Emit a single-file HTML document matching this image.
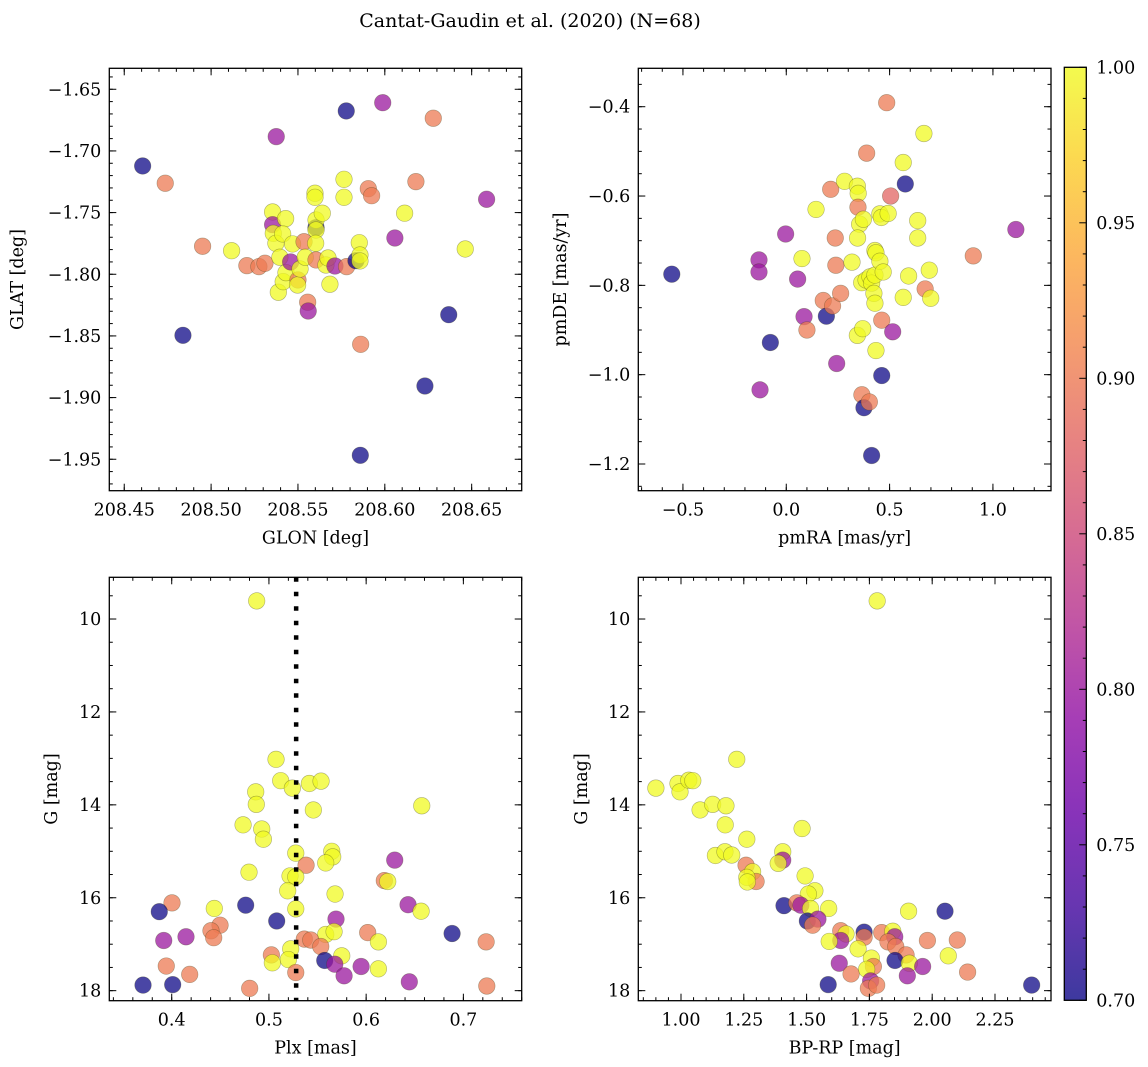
<!DOCTYPE html>
<html><head><meta charset="utf-8"><title>Cantat-Gaudin et al. (2020)</title>
<style>
html,body{margin:0;padding:0;background:#fff;}
svg{display:block;font-family:"DejaVu Serif","Liberation Serif",serif;}
</style></head>
<body>
<svg id="fig" width="1148" height="1067" viewBox="0 0 1148 1067" xmlns="http://www.w3.org/2000/svg">
<text x="530" y="27" text-anchor="middle" font-size="19" fill="#000">Cantat-Gaudin et al. (2020) (N=68)</text>
<defs>
<linearGradient id="plasmaGrad" x1="0" y1="1" x2="0" y2="0">
<stop offset="0" stop-color="#0d0887"/><stop offset="0.1" stop-color="#41049d"/><stop offset="0.2" stop-color="#6a00a8"/><stop offset="0.3" stop-color="#8f0da4"/><stop offset="0.4" stop-color="#b12a90"/><stop offset="0.5" stop-color="#cc4778"/><stop offset="0.6" stop-color="#e16462"/><stop offset="0.7" stop-color="#f2844b"/><stop offset="0.8" stop-color="#fca636"/><stop offset="0.9" stop-color="#fcce25"/><stop offset="1" stop-color="#f0f921"/>
</linearGradient>
</defs>
</svg>
<script>
// ---- data: top-left (GLON/GLAT) ----
const tlX = [208.5604,208.4606,208.4736,208.4838,208.4951,208.5118,208.5206,208.5275,208.5310,208.5375,208.5354,208.5354,208.5358,208.5373,208.5429,208.5412,208.5396,208.5387,208.5415,208.5431,208.5458,208.5469,208.5500,208.5498,208.5512,208.5535,208.5542,208.5556,208.5559,208.5604,208.5598,208.5598,208.5604,208.5604,208.5602,208.5640,208.5661,208.5673,208.5684,208.5713,208.5765,208.5765,208.5778,208.5780,208.5834,208.5853,208.5857,208.5857,208.5861,208.5859,208.5905,208.5924,208.5988,208.6058,208.6114,208.6179,208.6231,208.6279,208.6368,208.6463,208.6586];
const tlY = [-1.7622,-1.7122,-1.7262,-1.8495,-1.7773,-1.7809,-1.7930,-1.7938,-1.7911,-1.6884,-1.7495,-1.7598,-1.7668,-1.7749,-1.7549,-1.7673,-1.7862,-1.8146,-1.8060,-1.7987,-1.7900,-1.7754,-1.8046,-1.8087,-1.7957,-1.7736,-1.7862,-1.8227,-1.8298,-1.7884,-1.7343,-1.7376,-1.7560,-1.7641,-1.7749,-1.7505,-1.7925,-1.7868,-1.8081,-1.7933,-1.7230,-1.7376,-1.6676,-1.7938,-1.7890,-1.7744,-1.7844,-1.7892,-1.8568,-1.9468,-1.7306,-1.7363,-1.6609,-1.7706,-1.7505,-1.7249,-1.8906,-1.6735,-1.8328,-1.7795,-1.7392];
const tlC = [0.70,0.70,0.90,0.70,0.90,1.0,0.90,0.90,0.90,0.80,1.0,0.80,1.0,1.0,1.0,1.0,1.0,1.0,1.0,1.0,0.80,1.0,0.90,1.0,1.0,0.90,1.0,0.90,0.80,0.90,1.0,1.0,1.0,1.0,1.0,1.0,1.0,1.0,1.0,0.80,1.0,1.0,0.70,0.90,0.70,1.0,1.0,1.0,0.90,0.70,0.90,0.90,0.80,0.80,1.0,0.90,0.70,0.90,0.70,1.0,0.80];

// ---- data: top-right (pmRA/pmDE) ----
const trX = [-0.554,-0.132,-0.132,-0.127,-0.077,-0.003,0.055,0.076,0.086,0.100,0.144,0.179,0.194,0.224,0.215,0.237,0.240,0.244,0.263,0.282,0.318,0.344,0.348,0.347,0.355,0.373,0.345,0.344,0.370,0.366,0.376,0.402,0.389,0.365,0.386,0.405,0.413,0.424,0.429,0.429,0.429,0.434,0.453,0.469,0.434,0.413,0.462,0.462,0.453,0.460,0.493,0.486,0.505,0.515,0.566,0.576,0.566,0.592,0.636,0.636,0.666,0.672,0.692,0.699,0.905,1.111];
const trY = [-0.775,-0.743,-0.770,-1.034,-0.928,-0.685,-0.786,-0.740,-0.870,-0.900,-0.630,-0.834,-0.869,-0.846,-0.585,-0.694,-0.755,-0.975,-0.818,-0.567,-0.748,-0.578,-0.594,-0.625,-0.663,-0.652,-0.694,-0.912,-0.897,-1.045,-1.074,-1.061,-0.504,-0.794,-0.788,-0.781,-0.795,-0.818,-0.840,-0.777,-0.722,-0.727,-0.746,-0.770,-0.946,-1.181,-0.878,-1.002,-0.640,-0.648,-0.639,-0.391,-0.600,-0.904,-0.525,-0.573,-0.827,-0.779,-0.655,-0.694,-0.460,-0.808,-0.766,-0.829,-0.734,-0.675];
const trC = [0.70,0.80,0.80,0.80,0.70,0.80,0.80,1.0,0.80,0.90,1.0,0.90,0.70,0.90,0.90,0.90,0.90,0.80,0.90,1.0,1.0,1.0,1.0,0.90,1.0,1.0,1.0,1.0,1.0,0.90,0.70,0.90,0.90,1.0,1.0,1.0,1.0,1.0,1.0,1.0,1.0,1.0,1.0,1.0,1.0,0.70,0.90,0.70,1.0,1.0,1.0,0.90,0.88,0.80,1.0,0.70,1.0,1.0,1.0,1.0,1.0,0.90,1.0,1.0,0.90,0.80];

// ---- data: bottom-left (Plx/G) ----
const blX = [0.4874,0.5073,0.5121,0.5241,0.5416,0.5536,0.4864,0.4870,0.5457,0.6572,0.4734,0.4926,0.4943,0.5276,0.5646,0.5656,0.5584,0.5382,0.6294,0.4795,0.5217,0.5276,0.6187,0.6222,0.5193,0.5680,0.4003,0.3872,0.4438,0.4761,0.5276,0.6431,0.6565,0.5080,0.5690,0.4497,0.4404,0.4432,0.3918,0.4147,0.5584,0.5670,0.5364,0.5430,0.5533,0.6016,0.6126,0.6884,0.7234,0.5224,0.5025,0.5035,0.5200,0.5749,0.5574,0.5677,0.3944,0.5948,0.6126,0.4185,0.5276,0.5773,0.6444,0.3705,0.4010,0.4802,0.7241];
const blG = [9.61,13.02,13.48,13.64,13.54,13.49,13.72,13.99,14.11,14.02,14.43,14.52,14.74,15.04,15.00,15.12,15.25,15.30,15.19,15.45,15.53,15.55,15.63,15.65,15.85,15.92,16.11,16.30,16.23,16.16,16.24,16.15,16.29,16.50,16.46,16.59,16.71,16.86,16.92,16.84,16.79,16.73,16.89,16.91,17.05,16.75,16.95,16.77,16.95,17.10,17.23,17.40,17.33,17.25,17.35,17.43,17.47,17.48,17.53,17.65,17.61,17.68,17.81,17.88,17.87,17.95,17.90];
const blC = [1.0,1.0,1.0,1.0,1.0,1.0,1.0,1.0,1.0,1.0,1.0,1.0,1.0,1.0,1.0,1.0,1.0,0.90,0.80,1.0,1.0,1.0,0.90,1.0,1.0,1.0,0.90,0.70,1.0,0.70,1.0,0.80,1.0,0.70,0.80,0.90,0.90,0.90,0.80,0.80,1.0,1.0,0.90,0.90,0.90,0.90,1.0,0.70,0.90,1.0,0.90,1.0,1.0,1.0,0.70,0.80,0.90,0.80,1.0,0.90,0.90,0.80,0.80,0.70,0.70,0.90,0.90];
const plxMedian = 0.528;

// ---- data: bottom-right (BP-RP/G) ----
const brX = [1.781,1.222,0.900,0.988,0.996,1.031,1.047,1.076,1.126,1.179,1.176,1.482,1.262,1.137,1.175,1.202,1.405,1.405,1.387,1.259,1.285,1.299,1.262,1.264,1.494,1.533,1.507,1.410,1.461,1.477,1.516,1.588,1.906,2.051,1.503,1.545,1.524,1.636,1.657,1.636,1.590,1.729,1.729,1.705,1.799,1.843,1.851,1.824,1.855,1.981,2.100,1.896,2.064,1.758,1.852,1.909,1.630,1.766,1.739,1.962,1.677,1.901,2.141,1.755,1.586,1.746,1.779,2.396];
const brG = [9.61,13.02,13.64,13.54,13.72,13.47,13.48,14.11,13.99,14.02,14.43,14.51,14.74,15.09,15.01,15.08,15.01,15.19,15.26,15.30,15.44,15.65,15.56,15.66,15.53,15.85,15.92,16.17,16.11,16.16,16.23,16.23,16.29,16.29,16.50,16.46,16.59,16.71,16.78,16.92,16.94,16.74,16.85,17.10,16.75,16.72,16.84,16.95,17.05,16.92,16.91,17.23,17.25,17.30,17.35,17.41,17.41,17.48,17.54,17.48,17.64,17.68,17.60,17.79,17.87,17.95,17.88,17.88];
const brC = [1.0,1.0,1.0,1.0,1.0,1.0,1.0,1.0,1.0,1.0,1.0,1.0,1.0,1.0,1.0,1.0,1.0,0.80,1.0,0.90,1.0,0.90,1.0,1.0,1.0,1.0,1.0,0.70,0.90,0.80,1.0,1.0,1.0,0.70,0.70,0.80,0.90,0.90,1.0,0.80,1.0,0.70,0.90,1.0,0.90,1.0,0.80,0.90,0.90,0.90,0.90,0.90,1.0,1.0,0.70,1.0,0.80,0.90,1.0,0.80,0.90,0.80,0.90,0.80,0.70,0.90,0.90,0.70];

// ---- tick labels ----
const tlXTicks = [208.45,208.50,208.55,208.60,208.65];
const tlYTicks = [-1.65,-1.70,-1.75,-1.80,-1.85,-1.90,-1.95];
const trXTicks = [-0.5,0.0,0.5,1.0];
const trYTicks = [-0.4,-0.6,-0.8,-1.0,-1.2];
const blXTicks = [0.4,0.5,0.6,0.7];
const gTicks = [10,12,14,16,18];
const brXTicks = [1.00,1.25,1.50,1.75,2.00,2.25];
const cbTicks = [0.70,0.75,0.80,0.85,0.90,0.95,1.00];

const NS = "http://www.w3.org/2000/svg";
const svg = document.getElementById('fig');
const FS = 17.5;
function el(tag, attrs, parent){
  const e = document.createElementNS(NS, tag);
  for (const k in attrs) e.setAttribute(k, attrs[k]);
  (parent||svg).appendChild(e);
  return e;
}
const stops = [[13,8,135],[65,4,157],[106,0,168],[143,13,164],[177,42,144],[204,71,120],[225,100,98],[242,132,75],[252,166,54],[252,206,37],[240,249,33]];
function plasma(t){
  t = Math.max(0, Math.min(1, t));
  const f = t*10, i = Math.min(9, Math.floor(f)), u = f-i;
  const a = stops[i], b = stops[i+1];
  return 'rgb(' + [0,1,2].map(k => Math.round(a[k]+(b[k]-a[k])*u)).join(',') + ')';
}
const vmin = 0.70, vmax = 1.00;
function fmtMinus(s){ return s.replace('-', '\u2212'); }

function panel(cfg){
  const g = el('g', {});
  
  
  const [L,T,R,B] = cfg.rect;
  const sx = v => L + (v-cfg.xd[0])/(cfg.xd[1]-cfg.xd[0])*(R-L);
  const sy = cfg.invert ? (v => T + (v-cfg.yd[0])/(cfg.yd[1]-cfg.yd[0])*(B-T))
                        : (v => B - (v-cfg.yd[0])/(cfg.yd[1]-cfg.yd[0])*(B-T));
  const cid = 'clip-' + cfg.name;
  const cp = el('clipPath', {id: cid}, g);
  el('rect', {x:L, y:T, width:R-L, height:B-T}, cp);
  const pts = el('g', {'clip-path': 'url(#'+cid+')'}, g);
  
  
  for (let i=0;i<cfg.xs.length;i++){
    const c = el('circle', {cx: sx(cfg.xs[i]), cy: sy(cfg.ys[i]), r: 8.3, fill: plasma((cfg.cs[i]-vmin)/(vmax-vmin)), 'fill-opacity': 0.75, stroke: 'rgba(60,60,20,0.4)', 'stroke-width': 0.6}, pts);
    
    
  }
  if (cfg.extra) cfg.extra(pts, sx, sy, T, B);
  const tk = el('g', {stroke:'#000', 'stroke-width':1}, g);
  function xt(v, len){ const x = sx(v); if (x<L-0.5||x>R+0.5) return; el('line',{x1:x,y1:B,x2:x,y2:B-len},tk); el('line',{x1:x,y1:T,x2:x,y2:T+len},tk); }
  function yt(v, len){ const y = sy(v); if (y<T-0.5||y>B+0.5) return; el('line',{x1:L,y1:y,x2:L+len,y2:y},tk); el('line',{x1:R,y1:y,x2:R-len,y2:y},tk); }
  const x0 = Math.ceil(Math.min(...cfg.xd)/cfg.xminor), x1 = Math.floor(Math.max(...cfg.xd)/cfg.xminor);
  for (let k=x0;k<=x1;k++) xt(k*cfg.xminor, 3.5);
  const ylo = Math.min(...cfg.yd), yhi = Math.max(...cfg.yd);
  for (let k=Math.ceil(ylo/cfg.yminor);k<=Math.floor(yhi/cfg.yminor);k++) yt(k*cfg.yminor, 3.5);
  cfg.xticks.forEach(v => {
    xt(v, 7);
    const t = el('text', {x: sx(v), y: B+25, 'text-anchor':'middle', 'font-size':FS, fill:'#000'}, g);
    t.textContent = fmtMinus(v.toFixed(cfg.xdec));
    
    
  });
  cfg.yticks.forEach(v => {
    yt(v, 7);
    const t = el('text', {x: L-8, y: sy(v)+6, 'text-anchor':'end', 'font-size':FS, fill:'#000'}, g);
    t.textContent = fmtMinus(v.toFixed(cfg.ydec));
    
    
  });
  el('rect', {x:L, y:T, width:R-L, height:B-T, fill:'none', stroke:'#000', 'stroke-width':1.3}, g);
  const xl = el('text', {x:(L+R)/2, y:B+53, 'text-anchor':'middle', 'font-size':FS, fill:'#000'}, g);
  xl.textContent = cfg.xlabel;
  
  
  const yl = el('text', {x:cfg.ylabelX, y:(T+B)/2, 'text-anchor':'middle', 'font-size':FS, fill:'#000', transform:'rotate(-90 '+cfg.ylabelX+' '+(T+B)/2+')'}, g);
  yl.textContent = cfg.ylabel;
  
  
}

panel({name:'glon-glat-panel', rect:[109.3,68.3,521.7,490.7], xd:[208.4414,208.6788], yd:[-1.9755,-1.6330], invert:false,
  xs:tlX, ys:tlY, cs:tlC, xticks:tlXTicks, yticks:tlYTicks, xdec:2, ydec:2, xminor:0.01, yminor:0.01,
  xlabel:'GLON [deg]', ylabel:'GLAT [deg]', ylabelX:23});
panel({name:'proper-motion-panel', rect:[638.3,68.3,1051,490.7], xd:[-0.716,1.281], yd:[-1.2598,-0.314], invert:false,
  xs:trX, ys:trY, cs:trC, xticks:trXTicks, yticks:trYTicks, xdec:1, ydec:1, xminor:0.1, yminor:0.05,
  xlabel:'pmRA [mas/yr]', ylabel:'pmDE [mas/yr]', ylabelX:566});
panel({name:'parallax-mag-panel', rect:[109.3,577.3,521.7,1000.7], xd:[0.3358,0.760], yd:[9.102,18.216], invert:true,
  xs:blX, ys:blG, cs:blC, xticks:blXTicks, yticks:gTicks, xdec:1, ydec:0, xminor:0.02, yminor:0.5,
  xlabel:'Plx [mas]', ylabel:'G [mag]', ylabelX:57,
  extra:(g,sx,sy,T,B)=>{
    const l = el('line',{x1:sx(plxMedian),y1:T,x2:sx(plxMedian),y2:B,stroke:'#000','stroke-width':4.5,'stroke-dasharray':'4.5 10'},g);
    
    
  }});
panel({name:'color-mag-panel', rect:[638.3,577.3,1051,1000.7], xd:[0.830,2.473], yd:[9.102,18.216], invert:true,
  xs:brX, ys:brG, cs:brC, xticks:brXTicks, yticks:gTicks, xdec:2, ydec:0, xminor:0.05, yminor:0.5,
  xlabel:'BP-RP [mag]', ylabel:'G [mag]', ylabelX:587});

(function(){
  const L=1064.3, R=1086.3, T=67.3, B=1000.3;
  const g = el('g', {});
  
  
  el('rect', {x:L, y:T, width:R-L, height:B-T, fill:'url(#plasmaGrad)', 'fill-opacity':0.8}, g);
  el('rect', {x:L, y:T, width:R-L, height:B-T, fill:'none', stroke:'#000', 'stroke-width':1.3}, g);
  const sy = v => B - (v-vmin)/(vmax-vmin)*(B-T);
  for (let k=70;k<=100;k++){
    const y = sy(k/100);
    const len = (k%5===0)?7:3.5;
    el('line',{x1:R,y1:y,x2:R-len,y2:y,stroke:'#000','stroke-width':1},g);
  }
  cbTicks.forEach(v=>{
    const t = el('text',{x:R+10,y:sy(v)+6,'font-size':FS,fill:'#000'},g);
    t.textContent = v.toFixed(2);
    
    
  });
})();
</script>
</body></html>
